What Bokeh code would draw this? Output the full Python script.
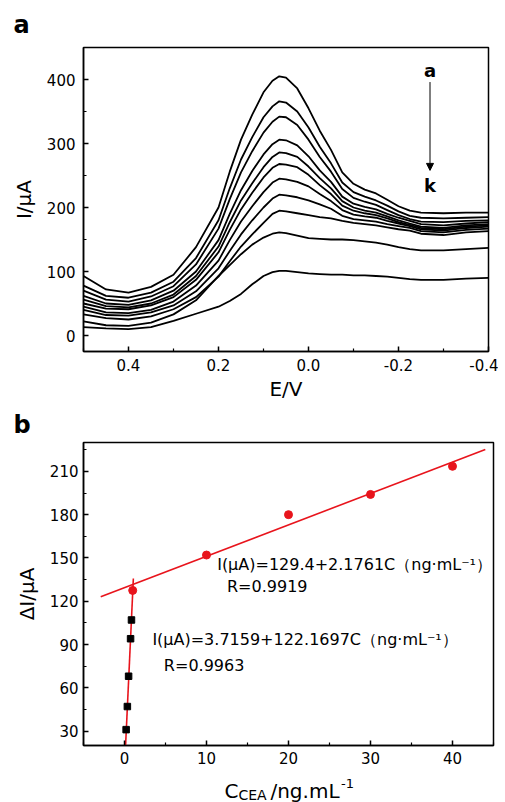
from bokeh.plotting import figure
from bokeh.models import Range1d, FixedTicker, PrintfTickFormatter, Label, Arrow, NormalHead
from bokeh.layouts import column
from bokeh.embed import file_html
from bokeh.resources import INLINE

FONT = "DejaVu Sans"

# ---------------- data: panel a (DPV curves a..k) ----------------
potential = [0.50, 0.45, 0.40, 0.35, 0.30, 0.25, 0.20, 0.175, 0.15, 0.125, 0.10, 0.08, 0.065, 0.05,
             0.025, 0.0, -0.025, -0.05, -0.075, -0.10, -0.125, -0.15, -0.175, -0.20, -0.225, -0.25,
             -0.30, -0.35, -0.40]
curve_a = [93, 72, 67, 76, 95, 138, 200, 256, 306, 345, 380, 398, 405, 403, 386, 355, 320, 290, 255, 237, 228, 222, 212, 202, 195, 192, 191, 192, 192]
curve_b = [78, 62, 59, 67, 84, 121, 180, 230, 275, 310, 341, 358, 366, 364, 350, 325, 295, 269, 239, 224, 217, 211, 203, 194, 187, 184, 183, 184, 185]
curve_c = [70, 56, 53, 61, 77, 111, 167, 213, 255, 288, 317, 334, 342, 341, 329, 306, 279, 256, 229, 215, 209, 204, 196, 188, 182, 178, 177, 179, 180]
curve_d = [62, 50, 48, 55, 70, 100, 149, 190, 227, 257, 283, 299, 306, 305, 297, 280, 258, 240, 217, 206, 201, 197, 190, 184, 179, 174, 172, 175, 177]
curve_e = [56, 46, 44, 50, 64, 93, 139, 177, 211, 238, 263, 279, 286, 285, 279, 264, 246, 230, 210, 200, 195, 192, 186, 180, 175, 170, 168, 172, 174]
curve_f = [50, 42, 41, 47, 60, 87, 130, 165, 197, 223, 247, 262, 268, 267, 263, 251, 235, 221, 203, 195, 191, 188, 183, 177, 173, 168, 166, 170, 172]
curve_g = [45, 36, 35, 40, 53, 78, 117, 149, 178, 202, 224, 239, 245, 244, 240, 233, 221, 210, 196, 189, 186, 184, 179, 175, 171, 166, 164, 168, 170]
curve_h = [40, 32, 31, 36, 47, 69, 105, 132, 158, 180, 200, 214, 220, 219, 216, 211, 205, 198, 187, 182, 180, 178, 174, 171, 168, 163, 161, 165, 167]
curve_i = [33, 27, 25, 30, 41, 60, 92, 116, 139, 158, 176, 190, 195, 194, 191, 188, 185, 183, 179, 176, 174, 172, 169, 166, 164, 159, 157, 161, 163]
curve_j = [22, 16, 15, 20, 33, 55, 93, 110, 127, 142, 153, 159, 161, 160, 156, 152, 151, 150, 150, 149, 147, 145, 142, 138, 135, 133, 133, 135, 137]
curve_k = [13, 11, 10, 13, 23, 34, 45, 54, 65, 80, 93, 99, 101, 101, 99, 97, 96, 95, 95, 94, 94, 93, 92, 90, 88, 87, 87, 89, 90]
curves = [curve_a, curve_b, curve_c, curve_d, curve_e, curve_f, curve_g, curve_h, curve_i, curve_j, curve_k]

a_x_ticks = [0.4, 0.2, 0.0, -0.2, -0.4]
a_x_minor = [0.5, 0.3, 0.1, -0.1, -0.3]
a_y_ticks = [0, 100, 200, 300, 400]
a_y_minor = [-50, 50, 150, 250, 350, 450]

# ---------------- data: panel b (calibration) ----------------
low_conc = [0.2, 0.35, 0.5, 0.74, 0.85]
low_resp = [31, 47, 68, 94, 107]
high_conc = [1, 10, 20, 30, 40]
high_resp = [127.5, 152, 180, 194, 213.5]
fit_low_x = [0.13, 1.08]
fit_low_y = [19.6, 135.7]
fit_high_x = [-2.9, 44.0]
fit_high_y = [123.1, 225.1]
eq_high = "I(μA)=129.4+2.1761C（ng·mL⁻¹）"
r_high = "R=0.9919"
eq_low = "I(μA)=3.7159+122.1697C（ng·mL⁻¹）"
r_low = "R=0.9963"

b_x_ticks = [0, 10, 20, 30, 40]
b_x_minor = [-5, 5, 15, 25, 35, 45]
b_y_ticks = [30, 60, 90, 120, 150, 180, 210]
b_y_minor = [15, 45, 75, 105, 135, 165, 195, 225]


def style(p):
    p.grid.visible = False
    p.outline_line_color = "black"
    p.outline_line_width = 1.5
    p.background_fill_color = "white"
    p.border_fill_color = "white"
    for ax in p.axis:
        ax.major_tick_in = 5
        ax.major_tick_out = 0
        ax.minor_tick_in = 3
        ax.minor_tick_out = 0
        ax.axis_line_width = 1.5
        ax.major_tick_line_width = 1.5
        ax.minor_tick_line_width = 1.2
        ax.axis_line_color = "black"
        ax.major_tick_line_color = "black"
        ax.minor_tick_line_color = "black"
        ax.major_label_text_font = FONT
        ax.major_label_text_font_size = "15px"
        ax.major_label_text_color = "black"
        ax.axis_label_text_font = FONT
        ax.axis_label_text_font_size = "20px"
        ax.axis_label_text_font_style = "normal"
        ax.axis_label_text_color = "black"
        ax.major_label_standoff = 7


def panel_title(p, letter, offset, standoff):
    p.title.text = letter
    p.title.align = "left"
    p.title.offset = offset
    p.title.standoff = standoff
    p.title.text_font = FONT
    p.title.text_font_size = "24px"
    p.title.text_font_style = "bold"
    p.title.text_color = "black"


# ---------------- panel a ----------------
p1 = figure(width=498, height=404, x_range=Range1d(0.5, -0.4), y_range=Range1d(-25, 450),
            output_backend="svg", toolbar_location=None,
            min_border_left=79, min_border_right=10, min_border_top=46, min_border_bottom=53)
style(p1)
panel_title(p1, "a", -70, 17)
p1.xaxis.ticker = FixedTicker(ticks=a_x_ticks, minor_ticks=a_x_minor)
p1.xaxis.formatter = PrintfTickFormatter(format="%.1f")
p1.yaxis.ticker = FixedTicker(ticks=a_y_ticks, minor_ticks=a_y_minor)
p1.xaxis.axis_label = "E/V"
p1.yaxis.axis_label = "I/μA"
p1.xaxis.axis_label_standoff = 3
p1.yaxis.axis_label_standoff = 8
p1.yaxis.major_label_standoff = 8

for ys in curves:
    p1.line(potential, ys, line_color="black", line_width=1.8)

p1.add_layout(Arrow(end=NormalHead(size=7, fill_color="black", line_color="black"),
                    x_start=-0.27, y_start=396, x_end=-0.27, y_end=258,
                    line_color="black", line_width=1))
p1.add_layout(Label(x=-0.27, y=414, text="a", text_align="center", text_baseline="middle",
                    text_font=FONT, text_font_size="18px", text_font_style="bold", text_color="black"))
p1.add_layout(Label(x=-0.27, y=234, text="k", text_align="center", text_baseline="middle",
                    text_font=FONT, text_font_size="18px", text_font_style="bold", text_color="black"))

# ---------------- panel b ----------------
p2 = figure(width=503, height=366, x_range=Range1d(-5, 45), y_range=Range1d(20, 230),
            output_backend="svg", toolbar_location=None,
            min_border_left=83, min_border_right=10, min_border_top=38, min_border_bottom=25)
style(p2)
panel_title(p2, "b", -70, 8)
p2.xaxis.ticker = FixedTicker(ticks=b_x_ticks, minor_ticks=b_x_minor)
p2.yaxis.ticker = FixedTicker(ticks=b_y_ticks, minor_ticks=b_y_minor)
p2.yaxis.axis_label = "ΔI/μA"
p2.yaxis.axis_label_standoff = 8
p2.yaxis.major_label_standoff = 5
p2.xaxis.major_label_standoff = 6

RED = "#e8141c"
p2.line(fit_high_x, fit_high_y, line_color=RED, line_width=1.6)
p2.line(fit_low_x, fit_low_y, line_color=RED, line_width=1.6)
p2.scatter(low_conc, low_resp, marker="square", size=6.5, fill_color="black", line_color="black")
p2.scatter(high_conc, high_resp, marker="circle", size=8, fill_color=RED, line_color=RED)

for txt, x, y in [(eq_high, 11.3, 145.4), (r_high, 12.5, 130.0), (eq_low, 3.4, 93.5), (r_low, 4.8, 75.4)]:
    p2.add_layout(Label(x=x, y=y, text=txt, text_align="left", text_baseline="middle",
                        text_font=FONT, text_font_size="16px", text_color="black"))

# ---------------- x-axis title of panel b (with subscript / superscript) ----------------
p3 = figure(width=503, height=32, x_range=p2.x_range, y_range=Range1d(0, 32),
            output_backend="svg", toolbar_location=None,
            min_border_left=83, min_border_right=10, min_border_top=0, min_border_bottom=0)
p3.axis.visible = False
p3.grid.visible = False
p3.outline_line_color = None
for txt, x, y, size in [("C", 12.2, 12, "20px"), ("CEA", 13.9, 8, "14px"),
                        ("/ng.mL", 17.8, 12, "20px"), ("-1", 26.4, 19, "13px")]:
    p3.add_layout(Label(x=x, y=y, text=txt, text_align="left", text_baseline="alphabetic",
                        text_font=FONT, text_font_size=size, text_color="black"))

layout = column(p1, p2, p3, spacing=0)
open("out.html", "w").write(file_html(layout, INLINE))
